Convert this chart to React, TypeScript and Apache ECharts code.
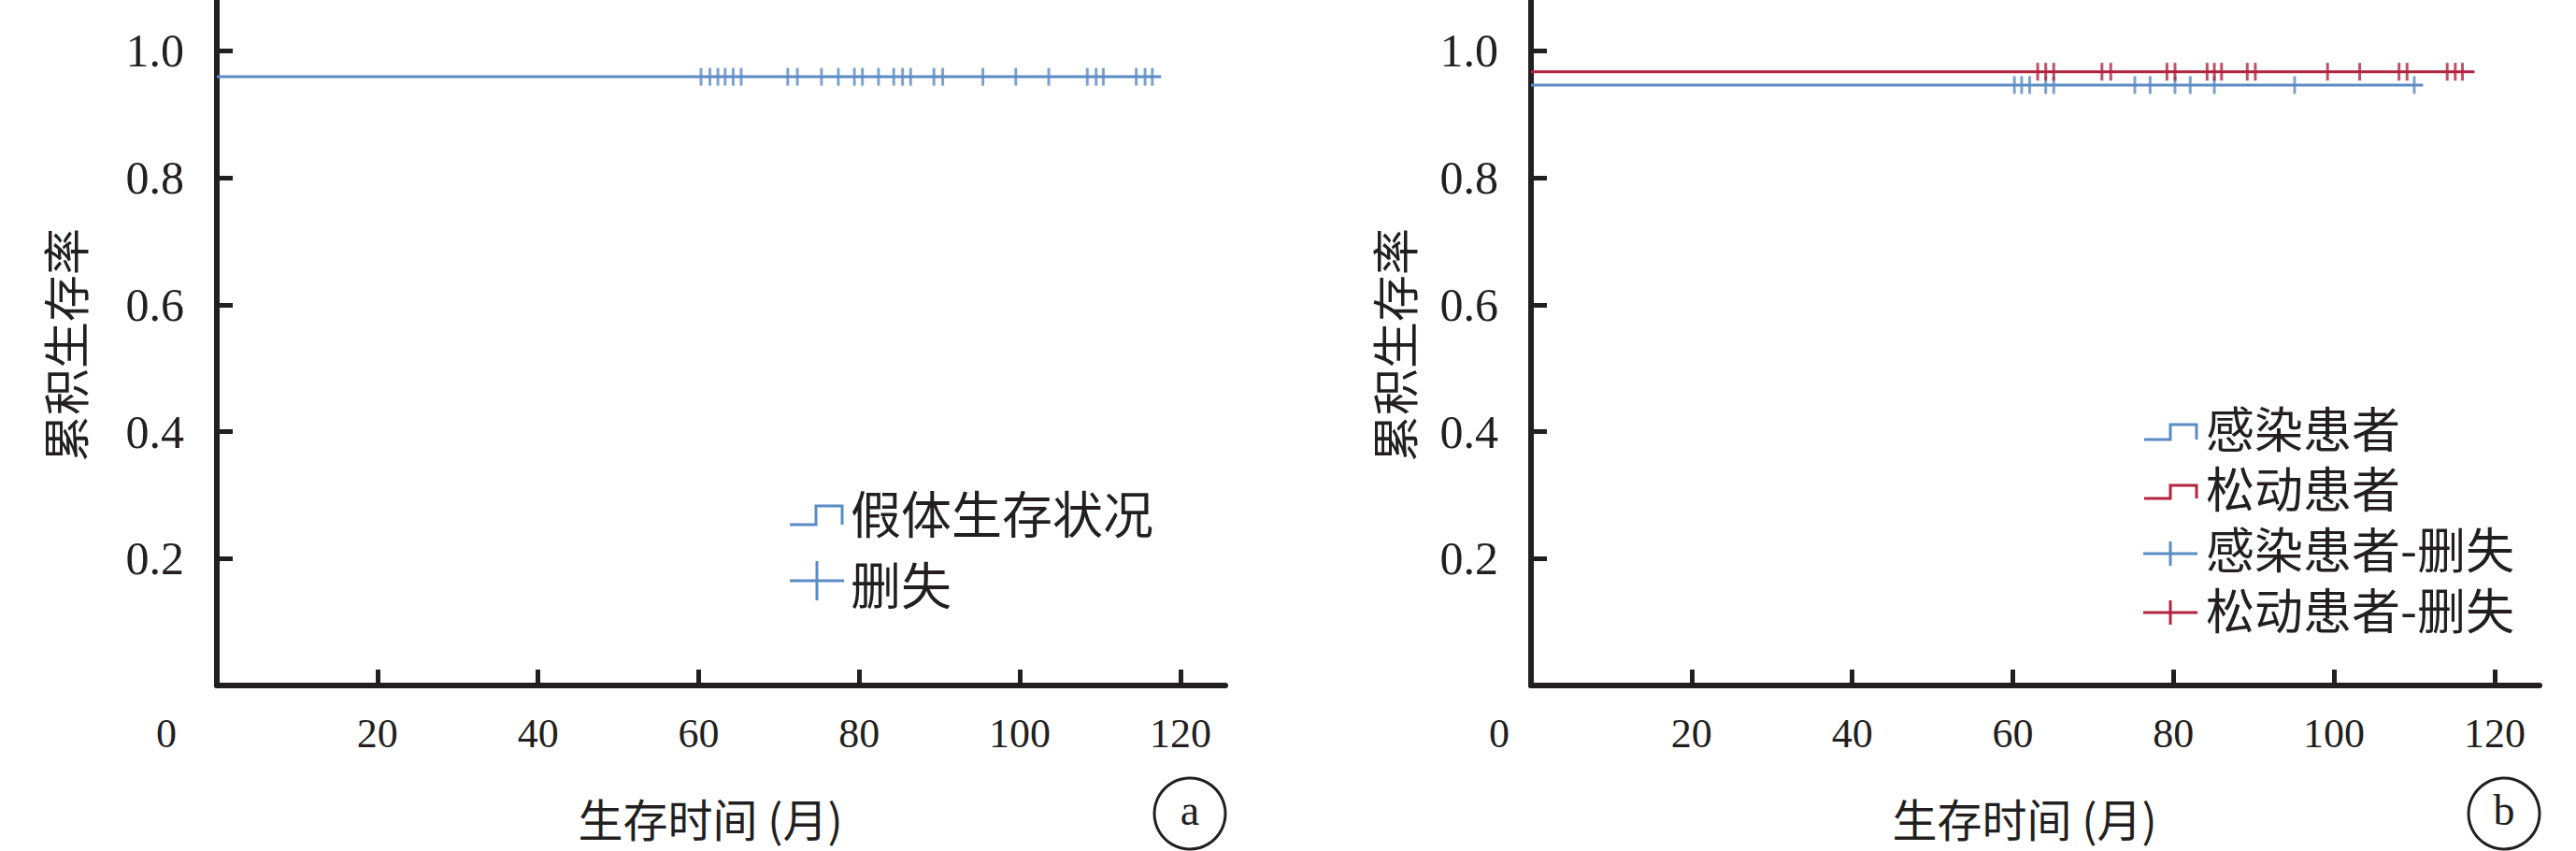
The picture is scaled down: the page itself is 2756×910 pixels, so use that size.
import React, { useEffect, useRef } from "react";
import * as echarts from "echarts";

// ---- Data ----
const X_TICKS = [20, 40, 60, 80, 100, 120];
const Y_TICKS = [0.2, 0.4, 0.6, 0.8, 1.0];

// Panel a: prosthesis survival
const A_SURV = 0.959;
const A_END = 117.6;
const A_CENSOR = [60.3, 61.4, 62.4, 63.3, 64.3, 65.3, 71.1, 72.3, 75.3, 77.4, 79.4, 80.4, 82.4, 84.3, 85.4, 86.4, 89.3, 90.4, 95.4, 99.5, 103.6, 108.4, 109.5, 110.4, 114.5, 115.6, 116.5];

// Panel b: infection patients
const INF_SURV = 0.946;
const INF_END = 111.1;
const INF_CENSOR = [60.2, 61.1, 62.1, 64.1, 65.1, 75.2, 77.1, 80.2, 82.1, 85.1, 95.1, 110.0];

// Panel b: loosening patients
const LOO_SURV = 0.967;
const LOO_END = 117.5;
const LOO_CENSOR = [63.1, 64.1, 65.1, 71.1, 72.2, 79.2, 80.2, 84.2, 85.1, 86.0, 89.2, 90.2, 99.2, 103.2, 108.1, 109.1, 114.1, 115.1, 116.0];

const LEGEND_A = ["假体生存状况", "删失"];
const LEGEND_B = ["感染患者", "松动患者", "感染患者-删失", "松动患者-删失"];

const BLUE = "#5b8bc4";
const RED = "#b2243f";
const INK = "#231f20";
const SERIF = '"Liberation Serif", "Times New Roman", serif';
const CJK = '"Noto Sans CJK SC", sans-serif';

const X_MAX = 125.6;
const Y_MAX = 1.08;

function xAxis(gridIndex: number) {
  return {
    type: "value",
    gridIndex,
    min: 0,
    max: X_MAX,
    axisLine: { show: true, lineStyle: { color: INK, width: 6 } },
    axisTick: { show: true, inside: true, length: 17, customValues: X_TICKS, lineStyle: { color: INK, width: 5 } },
    axisLabel: { show: true, customValues: X_TICKS, margin: 29, fontSize: 44, fontFamily: SERIF, color: INK },
    splitLine: { show: false },
  };
}

function yAxis(gridIndex: number) {
  return {
    type: "value",
    gridIndex,
    min: 0,
    max: Y_MAX,
    axisLine: { show: true, lineStyle: { color: INK, width: 6 } },
    axisTick: { show: true, inside: true, length: 17, customValues: Y_TICKS, lineStyle: { color: INK, width: 5 } },
    axisLabel: {
      show: true,
      customValues: Y_TICKS,
      margin: 35,
      fontSize: 50,
      fontFamily: SERIF,
      color: INK,
      formatter: (v: number) => v.toFixed(1),
    },
    splitLine: { show: false },
  };
}

function survLine(name: string, surv: number, end: number, color: string, idx: number) {
  return {
    name,
    type: "line",
    xAxisIndex: idx,
    yAxisIndex: idx,
    step: "end",
    showSymbol: false,
    symbol: "none",
    lineStyle: { color, width: 3 },
    data: [
      [0, surv],
      [end, surv],
    ],
    z: 3,
  };
}

function censor(name: string, times: number[], surv: number, color: string, idx: number) {
  return {
    name,
    type: "scatter",
    xAxisIndex: idx,
    yAxisIndex: idx,
    symbol: "rect",
    symbolSize: [3, 19],
    itemStyle: { color },
    data: times.map((t) => [t, surv]),
    z: 4,
  };
}

function txt(text: string, x: number, y: number, size: number, family: string, align = "left", rotation = 0) {
  return {
    type: "text",
    x,
    y,
    rotation,
    style: {
      text,
      fontSize: size,
      fontFamily: family,
      fill: INK,
      align,
      verticalAlign: "middle",
      lineHeight: size,
    },
  };
}

function poly(points: number[][], color: string) {
  return { type: "polyline", shape: { points }, style: { stroke: color, lineWidth: 3, fill: "none" } };
}

function seg(x1: number, y1: number, x2: number, y2: number, color: string) {
  return { type: "line", shape: { x1, y1, x2, y2 }, style: { stroke: color, lineWidth: 3 } };
}

function stepIcon(x: number, yLow: number, yHigh: number, color: string) {
  return poly(
    [
      [x, yLow],
      [x + 28, yLow],
      [x + 28, yHigh],
      [x + 56, yHigh],
      [x + 56, yLow],
    ],
    color
  );
}

function crossIcon(x: number, y: number, half: number, color: string) {
  return [seg(x, y, x + 58, y, color), seg(x + 29, y - half, x + 29, y + half, color)];
}

export default function App() {
  const ref = useRef<HTMLDivElement>(null);

  useEffect(() => {
    if (!ref.current) return;
    const chart = echarts.init(ref.current, undefined, { renderer: "svg" });

    const gridA = { left: 232, top: 0, width: 1079, height: 733, outerBoundsMode: "none" };
    const gridB = { left: 1638, top: 0, width: 1079, height: 733, outerBoundsMode: "none" };

    const graphic: any[] = [
      // origin "0" labels
      txt("0", 178, 784, 44, SERIF, "center"),
      txt("0", 1604, 784, 44, SERIF, "center"),
      // y titles
      txt("累积生存率", 68, 369, 50, CJK, "center", Math.PI / 2),
      txt("累积生存率", 1490, 369, 50, CJK, "center", Math.PI / 2),
      // x titles
      txt("生存时间 (月)", 760, 874, 48, CJK, "center"),
      txt("生存时间 (月)", 2166, 874, 48, CJK, "center"),
      // panel markers
      { type: "circle", shape: { cx: 1273, cy: 870, r: 38 }, style: { fill: "none", stroke: INK, lineWidth: 3 } },
      txt("a", 1273, 866, 46, SERIF, "center"),
      { type: "circle", shape: { cx: 2679, cy: 870, r: 38 }, style: { fill: "none", stroke: INK, lineWidth: 3 } },
      txt("b", 2679, 866, 46, SERIF, "center"),
      // legend a
      stepIcon(845, 561, 541, BLUE),
      txt(LEGEND_A[0], 910, 547, 54, CJK),
      ...crossIcon(845, 621, 21, BLUE),
      txt(LEGEND_A[1], 910, 623, 54, CJK),
      // legend b
      stepIcon(2294, 470, 454, BLUE),
      txt(LEGEND_B[0], 2360, 456, 52, CJK),
      stepIcon(2294, 533, 519, RED),
      txt(LEGEND_B[1], 2360, 520, 52, CJK),
      ...crossIcon(2293, 592, 13, BLUE),
      txt(LEGEND_B[2], 2360, 585, 52, CJK),
      ...crossIcon(2293, 655, 13, RED),
      txt(LEGEND_B[3], 2360, 650, 52, CJK),
    ];

    chart.setOption({
      animation: false,
      backgroundColor: "#ffffff",
      grid: [gridA, gridB],
      xAxis: [xAxis(0), xAxis(1)],
      yAxis: [yAxis(0), yAxis(1)],
      series: [
        survLine("假体生存状况", A_SURV, A_END, BLUE, 0),
        censor("删失", A_CENSOR, A_SURV, BLUE, 0),
        survLine("感染患者", INF_SURV, INF_END, BLUE, 1),
        survLine("松动患者", LOO_SURV, LOO_END, RED, 1),
        censor("感染患者-删失", INF_CENSOR, INF_SURV, BLUE, 1),
        censor("松动患者-删失", LOO_CENSOR, LOO_SURV, RED, 1),
      ],
      graphic,
    });

    return () => chart.dispose();
  }, []);

  return (
    <div
      ref={ref}
      style={{ position: "fixed", left: 0, top: 0, width: 2756, height: 910, background: "#ffffff" }}
    />
  );
}
